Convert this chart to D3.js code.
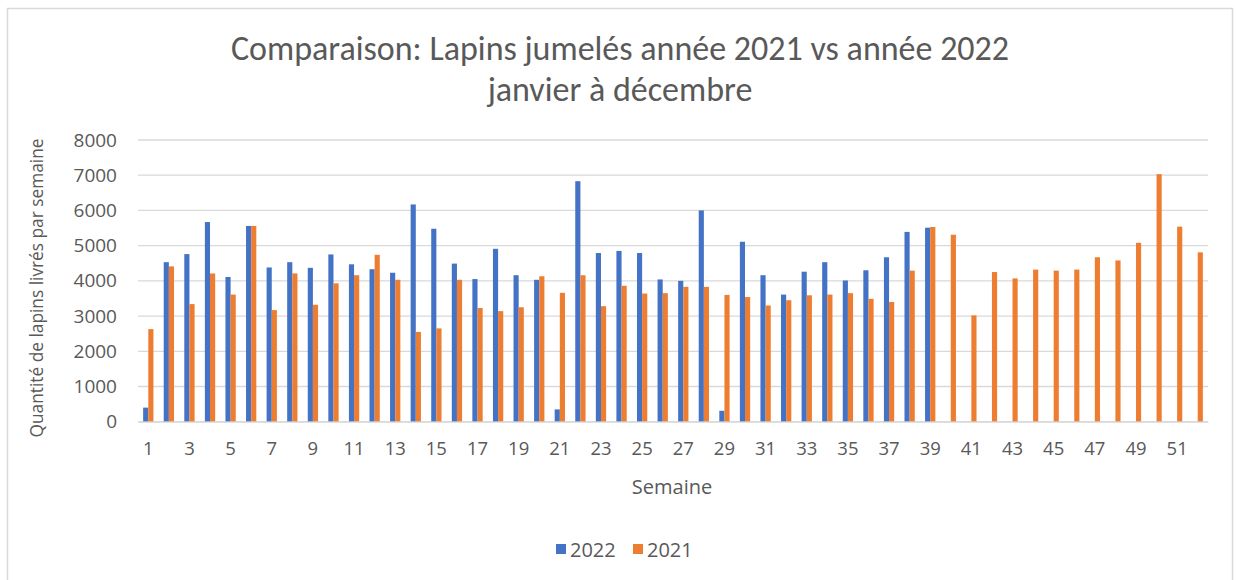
<!DOCTYPE html>
<html><head><meta charset="utf-8">
<script src="https://cdn.jsdelivr.net/npm/d3@7/dist/d3.min.js"></script>
<style>body{margin:0;background:#fff}svg{display:block}</style>
</head><body>
<script>
const weeks = d3.range(1, 53);
const values2022 = [400,4530,4760,5670,4110,5560,4380,4530,4370,4750,4470,4330,4230,
  6170,5480,4490,4050,4910,4160,4030,350,6830,4790,4850,4790,4040,
  4000,6000,310,5110,4160,3610,4260,4530,4010,4300,4670,5390,5510,
  null,null,null,null,null,null,null,null,null,null,null,null,null];
const values2021 = [2630,4410,3340,4210,3610,5560,3170,4210,3320,3930,4160,4740,4030,
  2550,2650,4030,3230,3140,3250,4130,3660,4160,3280,3860,3640,3650,
  3830,3830,3600,3540,3300,3450,3590,3610,3650,3490,3400,4290,5530,
  5310,3020,4250,4070,4320,4290,4320,4670,4580,5080,7030,5540,4810];
const yTicks = [0,1000,2000,3000,4000,5000,6000,7000,8000];
const seriesNames = ["2022","2021"];
const colors = ["#4472C4","#ED7D31"];
const titleLines = ["Comparaison: Lapins jumelés année 2021 vs année 2022","janvier à décembre"];

const W = 1236, H = 580;
const svg = d3.select("body").append("svg").attr("width", W).attr("height", H);
svg.append("rect").attr("x",7.5).attr("y",8.5).attr("width",1225).attr("height",600)
  .attr("fill","#fff").attr("stroke","#d9d9d9").attr("stroke-width",1.5);

const m = {left:138, right:1208, top:140, bottom:421.7};
const x = d3.scaleBand().domain(weeks).range([m.left, m.right]).paddingInner(0.5).paddingOuter(0.25);
const xs = d3.scaleBand().domain(seriesNames).range([0, x.bandwidth()]);
const y = d3.scaleLinear().domain([0,8000]).range([m.bottom, m.top]);

const font = "'Open Sans', sans-serif";
const grey = "#595959";

svg.append("g").selectAll("line").data(yTicks).join("line")
  .attr("x1", m.left).attr("x2", m.right)
  .attr("y1", d=>y(d)).attr("y2", d=>y(d))
  .attr("stroke", "#d9d9d9").attr("stroke-width", 1.3);

const yAxis = svg.append("g").attr("transform",`translate(${m.left},0)`)
  .call(d3.axisLeft(y).tickValues(yTicks).tickSize(0).tickPadding(21).tickFormat(d3.format("d")));
yAxis.select(".domain").remove();
yAxis.selectAll("text").attr("font-family", font).attr("font-size", 19).attr("fill", grey);

const series = [values2022, values2021];
series.forEach((vals, si) => {
  svg.append("g").selectAll("rect").data(weeks.map((w,i)=>({w, v: vals[i]})).filter(d=>d.v!=null))
    .join("rect")
    .attr("x", d => x(d.w) + xs(seriesNames[si]))
    .attr("width", xs.bandwidth())
    .attr("y", d => y(d.v))
    .attr("height", d => y(0) - y(d.v))
    .attr("fill", colors[si]);
});

const xAxis = svg.append("g").attr("transform",`translate(0,${m.bottom})`)
  .call(d3.axisBottom(x).tickValues(weeks.filter(w=>w%2===1)).tickSize(0).tickPadding(20));
xAxis.select(".domain").attr("stroke","#d9d9d9").attr("stroke-width",1.3);
xAxis.selectAll("text").attr("font-family", font).attr("font-size", 18.5).attr("fill", grey);

svg.append("text").attr("x", 672).attr("y", 494).attr("text-anchor","middle")
  .attr("font-family", font).attr("font-size", 20).attr("fill", grey).text("Semaine");

svg.append("text").attr("transform","translate(43,288) rotate(-90)").attr("text-anchor","middle")
  .attr("font-family", font).attr("font-size", 17.3).attr("fill", grey)
  .text("Quantité de lapins livrés par semaine");

svg.append("g").selectAll("text").data(titleLines).join("text")
  .attr("x", 620).attr("y", (d,i)=> 60 + i*41).attr("text-anchor","middle")
  .attr("font-family", "Carlito, 'Liberation Sans Narrow', Lato, sans-serif").attr("font-size", 34)
  .attr("font-weight", 300)
  .attr("fill", grey).text(d=>d);

const leg = svg.append("g");
const legX = [556, 633];
seriesNames.forEach((n,i)=>{
  leg.append("rect").attr("x", legX[i]).attr("y", 544).attr("width", 10).attr("height", 10).attr("fill", colors[i]);
  leg.append("text").attr("x", legX[i]+14).attr("y", 556.5).attr("font-family", font).attr("font-size", 20)
    .attr("fill", grey).text(n);
});
</script>
</body></html>
